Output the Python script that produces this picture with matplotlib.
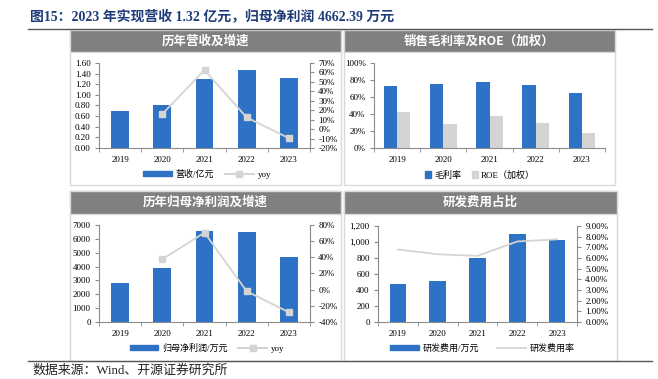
import matplotlib.pyplot as plt
from matplotlib.patches import Rectangle, Patch
from matplotlib.lines import Line2D
from matplotlib.ticker import FuncFormatter, MultipleLocator, FixedLocator

W, H = 658, 379
BLUE = "#2E72C6"
LGRAY = "#D4D4D4"
AXC = "#8C8C8C"
HEADER = "#808080"
BORDER = "#D9D9D9"
SERIF_CJK = ["Liberation Serif", "Noto Sans CJK SC"]

years = ["2019", "2020", "2021", "2022", "2023"]
revenue = [0.69, 0.80, 1.30, 1.46, 1.32]          # 亿元
revenue_yoy = [None, 16.0, 62.5, 12.3, -9.6]      # %
gross_margin = [72.6, 75.3, 77.6, 74.1, 64.3]     # %
roe = [42.7, 28.6, 37.6, 29.8, 18.2]              # %
net_profit = [2810, 3870, 6600, 6470, 4662.39]    # 万元
profit_yoy = [None, 37.7, 70.5, -2.0, -28.0]      # %
rd_cost = [470, 510, 805, 1105, 1025]             # 万元
rd_rate = [6.8, 6.35, 6.2, 7.55, 7.75]            # %

plt.rcParams["font.family"] = SERIF_CJK


def box(x0, y0, x1, y1):
    return [x0 / W, 1 - y1 / H, (x1 - x0) / W, (y1 - y0) / H]


def style_axes(ax):
    for s in ["top", "right"]:
        ax.spines[s].set_visible(False)
    for s in ["left", "bottom"]:
        ax.spines[s].set_color(AXC)
        ax.spines[s].set_linewidth(0.8)
    ax.set_xlim(-0.5, 4.5)
    ax.set_xticks(range(5))
    ax.set_xticklabels(years)
    ax.xaxis.set_minor_locator(FixedLocator([i - 0.5 for i in range(6)]))
    ax.tick_params(axis="x", which="major", length=0, labelsize=6.5, pad=6)
    ax.tick_params(axis="x", which="minor", length=3, color=AXC)
    ax.tick_params(axis="y", length=3, color=AXC, labelsize=6.5, pad=3)
    ax.set_facecolor("none")


def style_right(ax):
    for s in ["top", "left", "bottom"]:
        ax.spines[s].set_visible(False)
    ax.spines["right"].set_color(AXC)
    ax.spines["right"].set_linewidth(0.8)
    ax.tick_params(axis="y", length=3, color=AXC, labelsize=6.5, pad=3)


def panel(fig, x0, y0, x1, y1, hy1, title):
    fig.patches.append(Rectangle((x0 / W, 1 - y1 / H), (x1 - x0) / W, (y1 - y0) / H,
                                 transform=fig.transFigure, fill=False,
                                 edgecolor=BORDER, linewidth=1.0))
    fig.patches.append(Rectangle((x0 / W, 1 - hy1 / H), (x1 - x0) / W, (hy1 - y0) / H,
                                 transform=fig.transFigure, facecolor=HEADER,
                                 edgecolor=BORDER, linewidth=1.0))
    fig.text((x0 + x1) / 2 / W, 1 - (y0 + hy1) / 2 / H, title, color="white",
             fontsize=9, fontweight="bold", family=["Noto Sans CJK SC"],
             ha="center", va="center")


fig = plt.figure(figsize=(W / 100, H / 100), dpi=100)

fig.text(30 / W, 1 - 17 / H, "图15：2023 年实现营收 1.32 亿元，归母净利润 4662.39 万元",
         fontsize=10, fontweight="bold", color="#1F3C78", va="center", ha="left")
fig.add_artist(Line2D([28 / W, 652 / W], [1 - 29 / H, 1 - 29 / H],
                      transform=fig.transFigure, color="#555555", linewidth=1.0))
fig.add_artist(Line2D([28 / W, 652 / W], [1 - 361 / H, 1 - 361 / H],
                      transform=fig.transFigure, color="#555555", linewidth=1.0))
fig.text(32 / W, 1 - 370 / H, "数据来源：Wind、开源证券研究所", fontsize=9.3,
         color="#222222", va="center", ha="left")

panel(fig, 70, 30, 341, 185, 52, "历年营收及增速")
panel(fig, 344, 30, 615, 185, 52, "销售毛利率及ROE（加权）")
panel(fig, 70, 191, 341, 361, 214, "历年归母净利润及增速")
panel(fig, 344, 191, 617, 361, 214, "研发费用占比")

x = list(range(5))
pct0 = FuncFormatter(lambda v, p: f"{v:.0f}%")

# top-left: revenue
ax1 = fig.add_axes(box(99, 63, 310, 148))
style_axes(ax1)
ax1.bar(x, revenue, width=0.42, color=BLUE, zorder=2)
ax1.set_ylim(0, 1.6)
ax1.yaxis.set_major_locator(MultipleLocator(0.2))
ax1.yaxis.set_major_formatter(FuncFormatter(lambda v, p: f"{v:.2f}"))
ax1r = ax1.twinx()
ax1r.plot(x[1:], revenue_yoy[1:], color=LGRAY, linewidth=1.3, marker="s",
          markersize=4.5, markerfacecolor=LGRAY, markeredgecolor=LGRAY, zorder=3)
ax1r.set_ylim(-20, 70)
ax1r.yaxis.set_major_locator(MultipleLocator(10))
ax1r.yaxis.set_major_formatter(pct0)
style_right(ax1r)
fig.legend(handles=[Patch(color=BLUE, label="营收/亿元"),
                    Line2D([], [], color=LGRAY, marker="s", markersize=4, label="yoy")],
           loc="center", bbox_to_anchor=(207 / W, 1 - 174 / H), ncol=2, frameon=False,
           fontsize=6.5, handlelength=3.2, handleheight=0.6, columnspacing=1.2,
           handletextpad=0.4)

# top-right: gross margin & ROE
ax2 = fig.add_axes(box(374, 63, 605, 148))
style_axes(ax2)
bw = 0.29
ax2.bar([i - bw / 2 for i in x], gross_margin, width=bw, color=BLUE, zorder=2)
ax2.bar([i + bw / 2 for i in x], roe, width=bw, color=LGRAY, zorder=2)
ax2.set_ylim(0, 100)
ax2.yaxis.set_major_locator(MultipleLocator(20))
ax2.yaxis.set_major_formatter(pct0)
fig.legend(handles=[Patch(color=BLUE, label="毛利率"), Patch(color=LGRAY, label="ROE（加权）")],
           loc="center", bbox_to_anchor=(480 / W, 1 - 175 / H), ncol=2, frameon=False,
           fontsize=6.5, handlelength=0.7, handleheight=0.7, columnspacing=1.2,
           handletextpad=0.3)

# bottom-left: net profit
ax3 = fig.add_axes(box(99, 225, 310, 322))
style_axes(ax3)
ax3.bar(x, net_profit, width=0.42, color=BLUE, zorder=2)
ax3.set_ylim(0, 7000)
ax3.yaxis.set_major_locator(MultipleLocator(1000))
ax3r = ax3.twinx()
ax3r.plot(x[1:], profit_yoy[1:], color=LGRAY, linewidth=1.3, marker="s",
          markersize=4.5, markerfacecolor=LGRAY, markeredgecolor=LGRAY, zorder=3)
ax3r.set_ylim(-40, 80)
ax3r.yaxis.set_major_locator(MultipleLocator(20))
ax3r.yaxis.set_major_formatter(pct0)
style_right(ax3r)
fig.legend(handles=[Patch(color=BLUE, label="归母净利润/万元"),
                    Line2D([], [], color=LGRAY, marker="s", markersize=4, label="yoy")],
           loc="center", bbox_to_anchor=(207 / W, 1 - 348 / H), ncol=2, frameon=False,
           fontsize=6.5, handlelength=3.2, handleheight=0.6, columnspacing=1.2,
           handletextpad=0.4)

# bottom-right: R&D
ax4 = fig.add_axes(box(378, 226, 577, 322))
style_axes(ax4)
ax4.bar(x, rd_cost, width=0.42, color=BLUE, zorder=2)
ax4.set_ylim(0, 1200)
ax4.yaxis.set_major_locator(MultipleLocator(200))
ax4.yaxis.set_major_formatter(FuncFormatter(lambda v, p: f"{v:,.0f}"))
ax4r = ax4.twinx()
ax4r.plot(x, rd_rate, color=LGRAY, linewidth=1.3, zorder=3)
ax4r.set_ylim(0, 9)
ax4r.yaxis.set_major_locator(MultipleLocator(1))
ax4r.yaxis.set_major_formatter(FuncFormatter(lambda v, p: f"{v:.2f}%"))
style_right(ax4r)
fig.legend(handles=[Patch(color=BLUE, label="研发费用/万元"),
                    Line2D([], [], color=LGRAY, linewidth=1.3, label="研发费用率")],
           loc="center", bbox_to_anchor=(482 / W, 1 - 348 / H), ncol=2, frameon=False,
           fontsize=6.5, handlelength=3.2, handleheight=0.6, columnspacing=2.0,
           handletextpad=0.4)

fig.savefig("out.png", dpi=100)
